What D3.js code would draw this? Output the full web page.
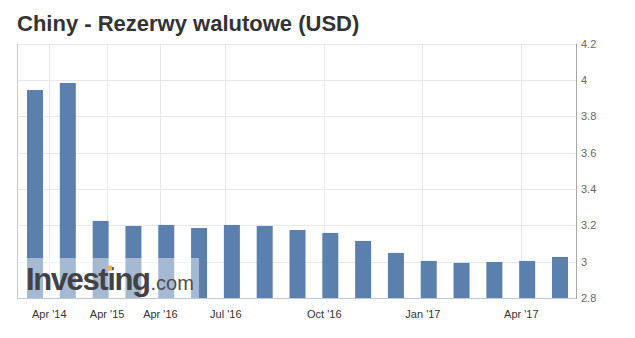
<!DOCTYPE html>
<html>
<head>
<meta charset="utf-8">
<script src="https://cdn.jsdelivr.net/npm/d3@7"></script>
<style>
body { margin: 0; background: #fff; }
svg { display: block; font-family: "Liberation Sans", Arial, sans-serif; }
</style>
</head>
<body>
<svg width="635" height="338"></svg>
<script>
// release dates (ordinal x axis, one bar per release)
var dates = ['2014-01-15', '2014-07-15', '2015-01-15', '2016-03-07', '2016-04-07', '2016-06-07',
	'2016-07-07', '2016-08-07', '2016-09-07', '2016-10-07', '2016-11-07', '2016-12-07',
	'2017-01-07', '2017-02-07', '2017-03-07', '2017-04-07', '2017-05-07'];
// reserves, trillions USD
var values = [3.944, 3.983, 3.224, 3.196, 3.202, 3.185, 3.202, 3.196, 3.174, 3.158,
	3.114, 3.048, 3.004, 2.993, 2.998, 3.004, 3.026];
var xTicks = ['2014-04-01', '2015-04-01', '2016-04-01', '2016-07-01', '2016-10-01', '2017-01-01', '2017-04-01'];
var yTicks = [2.8, 3, 3.2, 3.4, 3.6, 3.8, 4, 4.2];

var main = function() {
	var svg = d3.select('svg');
	var parse = d3.timeParse('%Y-%m-%d');
	var fmt = d3.timeFormat("%b '%y");

	var data = dates.map(function(d, i) { return {date: parse(d), v: values[i], i: i}; });

	var pl = 17, pr = 576, pt = 43.5, pb = 298;

	var x = d3.scaleLinear().domain([-0.5, dates.length - 0.5]).range([18.6, 576.4]);
	var y = d3.scaleLinear().domain([2.8, 4.2]).range([pb, pt]);

	// ordinal position of a date between the release dates
	var ord = d3.scaleLinear().domain(data.map(function(d) { return d.date; })).range(data.map(function(d) { return d.i; }));

	// title
	svg.append('text')
		.attr('x', 17).attr('y', 31)
		.attr('font-size', 22).attr('font-weight', 'bold').attr('fill', '#333')
		.text('Chiny - Rezerwy walutowe (USD)');

	// grid
	svg.append('g').selectAll('line')
		.data(yTicks)
		.enter().append('line')
		.attr('x1', pl).attr('x2', pr)
		.attr('y1', function(d) { return Math.round(y(d)) + 0.5; })
		.attr('y2', function(d) { return Math.round(y(d)) + 0.5; })
		.attr('stroke', '#e8e8e8');

	svg.append('g').selectAll('line')
		.data(xTicks)
		.enter().append('line')
		.attr('x1', function(d) { return Math.round(x(ord(parse(d)))) + 0.5; })
		.attr('x2', function(d) { return Math.round(x(ord(parse(d)))) + 0.5; })
		.attr('y1', pt).attr('y2', pb)
		.attr('stroke', '#e8e8e8');

	// bars
	var bw = 16;
	svg.append('g').selectAll('rect')
		.data(data)
		.enter().append('rect')
		.attr('x', function(d) { return x(d.i) - bw / 2; })
		.attr('width', bw)
		.attr('y', function(d) { return y(d.v); })
		.attr('height', function(d) { return pb - y(d.v); })
		.attr('fill', '#5b80ad');

	// watermark
	svg.append('rect')
		.attr('x', pl).attr('y', 258).attr('width', 182).attr('height', pb - 258)
		.attr('fill', '#fff').attr('opacity', 0.45);
	var wm = svg.append('text')
		.attr('x', 26).attr('y', 290)
		.attr('font-family', 'Arial, "Liberation Sans", sans-serif');
	var brand = wm.append('tspan')
		.attr('font-size', 31).attr('font-weight', 'bold').attr('fill', '#424246').attr('letter-spacing', -1.4)
		.text('Investing');
	wm.append('tspan')
		.attr('font-size', 20).attr('fill', '#4d4d52').attr('dx', 1)
		.text('.com');
	// orange dot on the second "i"
	var ext = brand.node().getExtentOfChar(6);
	svg.append('rect')
		.attr('x', ext.x + 1).attr('y', 265.5)
		.attr('width', Math.max(ext.width - 3.5, 4)).attr('height', 5)
		.attr('fill', '#f4b13e');

	// frame lines
	svg.append('line').attr('x1', pl + 0.5).attr('x2', pl + 0.5).attr('y1', pt).attr('y2', pb)
		.attr('stroke', '#c8c8c8');
	svg.append('line').attr('x1', pl).attr('x2', pr + 0.5).attr('y1', pb + 0.5).attr('y2', pb + 0.5)
		.attr('stroke', '#c0c8d8');
	svg.append('line').attr('x1', pr + 0.5).attr('x2', pr + 0.5).attr('y1', pt).attr('y2', pb + 1)
		.attr('stroke', '#a8a8a8');

	// y axis labels (right)
	var yAxis = d3.axisRight(y).tickValues(yTicks).tickSize(0).tickPadding(5)
		.tickFormat(function(d) { return d3.format('')(+d.toFixed(1)); });
	svg.append('g')
		.attr('transform', 'translate(' + pr + ',0)')
		.call(yAxis)
		.call(function(g) { g.select('.domain').remove(); })
		.selectAll('text')
		.attr('font-size', 11).attr('fill', '#666').attr('font-family', 'Arial, "Liberation Sans", sans-serif');

	// x axis labels
	var xAxis = d3.axisBottom(d3.scaleIdentity()).tickValues(xTicks.map(function(d) { return x(ord(parse(d))); }))
		.tickSize(0).tickPadding(12)
		.tickFormat(function(d, i) { return fmt(parse(xTicks[i])); });
	svg.append('g')
		.attr('transform', 'translate(0,' + pb + ')')
		.call(xAxis)
		.call(function(g) { g.select('.domain').remove(); })
		.selectAll('text')
		.attr('font-size', 11).attr('fill', '#333').attr('font-family', 'Arial, "Liberation Sans", sans-serif');
};

main();
</script>
</body>
</html>
